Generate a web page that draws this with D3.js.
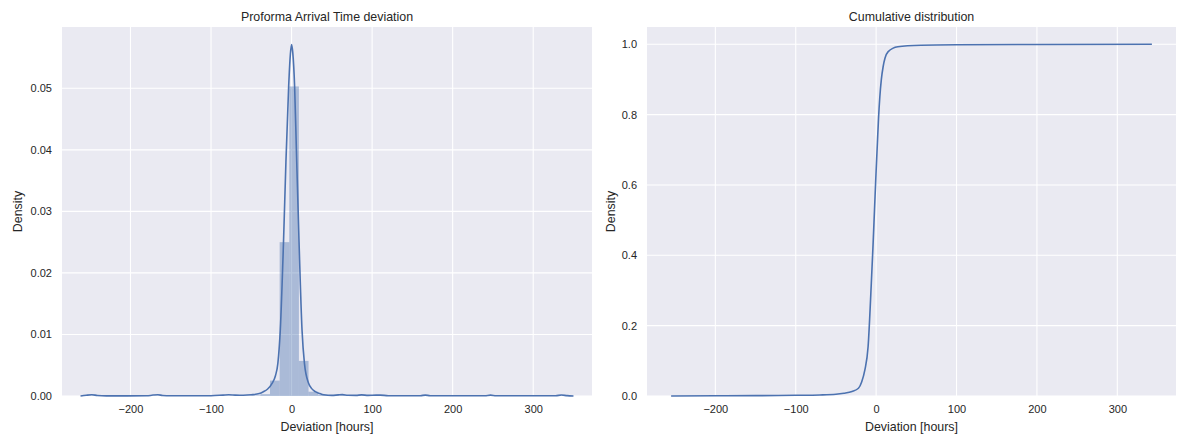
<!DOCTYPE html>
<meta charset="utf-8">
<style>
    body { margin: 0; background: #fff; }
    text {
        font-family: "Liberation Sans", Arial, sans-serif;
        fill: #262626;
    }
    .tick text { font-size: 11px; }
    .title, .axis-label { font-size: 12.4px; }
</style>
<body>
    <svg width="1177" height="436"></svg>
</body>
<script src="https://d3js.org/d3.v7.min.js"></script>
<script>
    let BLUE = "#4c72b0";
    let BG = "#eaeaf2";

    // histogram: 50 bins starting at hist_start, bin width hist_bin
    let hist_start = -254;
    let hist_bin = 11.96;
    let hist_density = [
        0.00003, 0, 0, 0, 0, 0, 0, 0.00003, 0, 0,
        0, 0, 0, 0, 0.00004, 0, 0.00005, 0.0001, 0.0003, 0.0025,
        0.025, 0.0503, 0.0057, 0.0007, 0.0002, 0.0001, 0.0001, 0, 0.00005, 0,
        0.00005, 0, 0, 0, 0, 0.00003, 0, 0, 0, 0,
        0, 0.00003, 0, 0, 0, 0, 0, 0, 0, 0.00003
    ];

    // kde curve
    let kde_x = [-262, -255, -248, -241, -230, -180, -172, -166, -160, -150,
        -100, -85, -78, -70, -60, -50, -40, -35, -30, -24,
        -20, -17, -14, -10, -7, -3.6, -1.5, 0, 1.5, 3.8,
        6, 9.3, 13, 16, 21, 25, 29.5, 35, 40, 50,
        58, 63, 70, 80, 87, 95, 105, 110, 120, 160,
        166, 172, 240, 247, 254, 328, 335, 342, 350];
    let kde_y = [0, 0.00012, 0.0002, 0.00008, 0.00002, 0.00003, 0.00015, 0.0002, 0.00008, 0.00003,
        0.00005, 0.00015, 0.0002, 0.00015, 0.00012, 0.0002, 0.0004, 0.0007, 0.0011, 0.0021,
        0.0033, 0.0053, 0.0107, 0.025, 0.038, 0.0503, 0.0555, 0.0571, 0.0558, 0.0503,
        0.040, 0.025, 0.0107, 0.0053, 0.0021, 0.0012, 0.0007, 0.0004, 0.0002, 0.0001,
        0.00018, 0.00022, 0.00012, 0.0001, 0.00018, 0.0001, 0.00015, 0.00015, 0.00005, 0.00005,
        0.00015, 0.00005, 0.00004, 0.00015, 0.00004, 0.00004, 0.00016, 0.00006, 0];

    // cumulative distribution
    let cdf_x = [-255, -200, -150, -100, -70, -50, -40, -30, -22, -18,
        -14, -10, -6, -4, -2, 0, 1.6, 3, 4.6, 6.5,
        8.7, 11, 15, 27, 56, 100, 200, 343];
    let cdf_y = [0, 0.0005, 0.001, 0.002, 0.003, 0.005, 0.008, 0.013, 0.022, 0.04,
        0.074, 0.14, 0.32, 0.42, 0.53, 0.64, 0.72, 0.79, 0.85, 0.9,
        0.936, 0.96, 0.979, 0.993, 0.997, 0.9985, 0.9993, 1.0];

    let x_ticks = [-200, -100, 0, 100, 200, 300];
    let left_y_ticks = [0, 0.01, 0.02, 0.03, 0.04, 0.05];
    let right_y_ticks = [0, 0.2, 0.4, 0.6, 0.8, 1.0];
    let x_domain = [-285, 373];

    var svg = d3.select("svg");

    function make_panel(box, y_domain, y_ticks, y_fmt, title) {
        var g = svg.append("g");
        var x = d3.scaleLinear().domain(x_domain).range([box.x0, box.x1]);
        var y = d3.scaleLinear().domain(y_domain).range([box.y1, box.y0]);

        g.append("rect")
            .attr("x", box.x0).attr("y", box.y0)
            .attr("width", box.x1 - box.x0).attr("height", box.y1 - box.y0)
            .attr("fill", BG);

        // grid
        g.append("g").selectAll("line").data(x_ticks).enter().append("line")
            .attr("x1", d => x(d)).attr("x2", d => x(d))
            .attr("y1", box.y0).attr("y2", box.y1)
            .attr("stroke", "#fff").attr("stroke-width", 1.1);
        g.append("g").selectAll("line").data(y_ticks).enter().append("line")
            .attr("x1", box.x0).attr("x2", box.x1)
            .attr("y1", d => y(d)).attr("y2", d => y(d))
            .attr("stroke", "#fff").attr("stroke-width", 1.1);

        var xa = g.append("g")
            .attr("transform", "translate(0," + box.y1 + ")")
            .call(d3.axisBottom(x).tickValues(x_ticks).tickSize(0).tickPadding(9).tickFormat(d3.format("d")));
        var ya = g.append("g")
            .attr("transform", "translate(" + box.x0 + ",0)")
            .call(d3.axisLeft(y).tickValues(y_ticks).tickSize(0).tickPadding(10).tickFormat(d3.format(y_fmt)));
        xa.select(".domain").remove();
        ya.select(".domain").remove();
        g.selectAll(".tick text").attr("fill", "#262626");

        var cx = (box.x0 + box.x1) / 2;
        g.append("text").attr("class", "title")
            .attr("x", cx).attr("y", 21).attr("text-anchor", "middle")
            .text(title);
        g.append("text").attr("class", "axis-label")
            .attr("x", cx).attr("y", 431).attr("text-anchor", "middle")
            .text("Deviation [hours]");
        g.append("text").attr("class", "axis-label")
            .attr("transform", "translate(" + (box.x0 - box.ylab) + "," + ((box.y0 + box.y1) / 2) + ") rotate(-90)")
            .attr("text-anchor", "middle")
            .text("Density");

        return {g: g, x: x, y: y};
    }

    var left = make_panel({x0: 62, x1: 592, y0: 27, y1: 396, ylab: 40}, [0, 0.05996], left_y_ticks, ".2f",
        "Proforma Arrival Time deviation");
    var right = make_panel({x0: 647, x1: 1176, y0: 27, y1: 396, ylab: 32}, [0, 1.049], right_y_ticks, ".1f",
        "Cumulative distribution");

    // histogram bars
    left.g.append("g").selectAll("rect")
        .data(hist_density)
        .enter().append("rect")
            .attr("x", (d, i) => left.x(hist_start + i * hist_bin))
            .attr("width", left.x(hist_start + hist_bin) - left.x(hist_start))
            .attr("y", d => left.y(d))
            .attr("height", d => left.y(0) - left.y(d))
            .attr("fill", BLUE)
            .attr("fill-opacity", 0.4);

    var kde_line = d3.line()
        .x(d => left.x(d[0]))
        .y(d => left.y(d[1]))
        .curve(d3.curveMonotoneX);
    left.g.append("path")
        .datum(d3.zip(kde_x, kde_y))
        .attr("d", kde_line)
        .attr("fill", "none")
        .attr("stroke", BLUE)
        .attr("stroke-width", 1.6);

    var cdf_line = d3.line()
        .x(d => right.x(d[0]))
        .y(d => right.y(d[1]))
        .curve(d3.curveMonotoneX);
    right.g.append("path")
        .datum(d3.zip(cdf_x, cdf_y))
        .attr("d", cdf_line)
        .attr("fill", "none")
        .attr("stroke", BLUE)
        .attr("stroke-width", 1.6);
</script>
